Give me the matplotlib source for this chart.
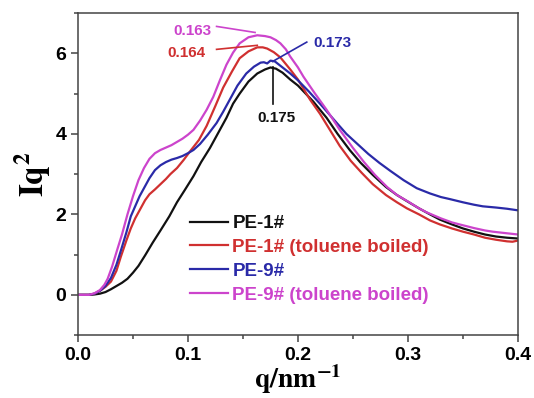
import numpy as np
import matplotlib
matplotlib.use("Agg")
import matplotlib.pyplot as plt
from matplotlib.ticker import MultipleLocator

plt.rcParams['font.family'] = ['Liberation Sans', 'DejaVu Sans']
plt.rcParams['mathtext.fontset'] = 'stix'

# ---- data ----
q_pe1 = [0, 0.01, 0.015, 0.02, 0.025, 0.03, 0.035, 0.04, 0.045, 0.05, 0.055, 0.061, 0.068, 0.075,
         0.083, 0.09, 0.097, 0.105, 0.112, 0.12, 0.128, 0.135, 0.141, 0.147, 0.155, 0.163, 0.17,
         0.175, 0.18, 0.186, 0.193, 0.2, 0.207, 0.214, 0.22, 0.226, 0.236, 0.247, 0.257, 0.268,
         0.28, 0.29, 0.299, 0.31, 0.32, 0.329, 0.34, 0.35, 0.36, 0.37, 0.38, 0.39, 0.4]
i_pe1 = [0, 0, 0.01, 0.03, 0.07, 0.14, 0.22, 0.3, 0.4, 0.55, 0.72, 0.98, 1.3, 1.6,
         1.95, 2.3, 2.6, 2.95, 3.3, 3.65, 4.05, 4.4, 4.75, 5.0, 5.3, 5.5, 5.6,
         5.65, 5.62, 5.52, 5.35, 5.2, 5.0, 4.8, 4.6, 4.4, 4.0, 3.6, 3.28, 2.98,
         2.68, 2.48, 2.33, 2.15, 2.0, 1.87, 1.75, 1.65, 1.57, 1.5, 1.45, 1.42, 1.4]

q_pe1t = [0, 0.01, 0.015, 0.02, 0.025, 0.03, 0.035, 0.039, 0.044, 0.048, 0.052, 0.057, 0.061,
          0.065, 0.07, 0.075, 0.08, 0.084, 0.09, 0.096, 0.102, 0.11, 0.117, 0.125, 0.132, 0.14,
          0.147, 0.155, 0.163, 0.168, 0.172, 0.178, 0.184, 0.193, 0.2, 0.211, 0.22, 0.229, 0.238,
          0.248, 0.258, 0.268, 0.28, 0.29, 0.299, 0.31, 0.32, 0.329, 0.34, 0.35, 0.36, 0.37,
          0.38, 0.39, 0.395, 0.4]
i_pe1t = [0, 0, 0.03, 0.1, 0.2, 0.33, 0.6, 0.95, 1.35, 1.65, 1.9, 2.15, 2.35,
          2.5, 2.62, 2.75, 2.88, 3.0, 3.15, 3.35, 3.57, 3.85, 4.2, 4.7, 5.15, 5.55,
          5.88, 6.05, 6.15, 6.15, 6.12, 6.03, 5.9, 5.6, 5.35, 4.85, 4.5, 4.1, 3.7,
          3.33, 3.03, 2.75, 2.48, 2.3, 2.15, 2.0, 1.85, 1.75, 1.65, 1.57, 1.5, 1.42,
          1.37, 1.33, 1.32, 1.35]

q_pe9 = [0, 0.01, 0.015, 0.02, 0.025, 0.03, 0.035, 0.039, 0.044, 0.048, 0.052, 0.056, 0.061,
         0.065, 0.07, 0.075, 0.08, 0.085, 0.09, 0.095, 0.1, 0.105, 0.111, 0.118, 0.126, 0.132,
         0.138, 0.145, 0.153, 0.16, 0.166, 0.169, 0.172, 0.175, 0.179, 0.186, 0.193, 0.2, 0.21,
         0.22, 0.228, 0.235, 0.244, 0.254, 0.264, 0.274, 0.284, 0.296, 0.308, 0.32, 0.33, 0.338,
         0.35, 0.36, 0.368, 0.38, 0.39, 0.4]
i_pe9 = [0, 0, 0.03, 0.1, 0.22, 0.42, 0.75, 1.1, 1.55, 1.95, 2.2, 2.45, 2.7,
         2.9, 3.1, 3.22, 3.3, 3.36, 3.4, 3.45, 3.52, 3.6, 3.75, 3.98, 4.27, 4.55,
         4.85, 5.2, 5.5, 5.67, 5.77, 5.78, 5.75, 5.82, 5.8, 5.65, 5.5, 5.33, 5.05,
         4.75, 4.5, 4.28, 4.0, 3.75, 3.5, 3.28, 3.08, 2.85, 2.65, 2.52, 2.43, 2.38,
         2.3, 2.24, 2.2, 2.17, 2.14, 2.1]

q_pe9t = [0, 0.01, 0.015, 0.02, 0.024, 0.027, 0.031, 0.036, 0.04, 0.045, 0.05, 0.055, 0.06,
          0.065, 0.07, 0.075, 0.08, 0.085, 0.09, 0.095, 0.1, 0.105, 0.111, 0.117, 0.123, 0.129,
          0.135, 0.141, 0.147, 0.155, 0.163, 0.17, 0.175, 0.18, 0.184, 0.189, 0.193, 0.2, 0.205,
          0.215, 0.226, 0.238, 0.25, 0.26, 0.27, 0.281, 0.29, 0.3, 0.31, 0.317, 0.33, 0.34,
          0.347, 0.36, 0.37, 0.377, 0.39, 0.4]
i_pe9t = [0, 0, 0.04, 0.12, 0.25, 0.4, 0.7, 1.15, 1.5, 2.0, 2.45, 2.85, 3.15,
          3.38, 3.52, 3.6, 3.66, 3.72, 3.8, 3.88, 3.98, 4.1, 4.33, 4.6, 4.92, 5.33,
          5.72, 6.02, 6.25, 6.4, 6.45, 6.43, 6.4, 6.33, 6.25, 6.1, 5.92, 5.65, 5.42,
          5.02, 4.6, 4.1, 3.65, 3.3, 2.98, 2.68, 2.48, 2.32, 2.15, 2.05, 1.9, 1.8,
          1.75, 1.66, 1.6, 1.57, 1.53, 1.5]

labels = ['PE-1#', 'PE-1# (toluene boiled)', 'PE-9#', 'PE-9# (toluene boiled)']
colors = ['#111111', '#d03030', '#2a2aa8', '#cc44cc']

peak_texts = ['0.175', '0.164', '0.173', '0.163']

x_ticks = [0.0, 0.1, 0.2, 0.3, 0.4]
y_ticks = [0, 2, 4, 6]

fig = plt.figure(figsize=(5.34, 3.98), dpi=100)
ax = fig.add_axes([0.146, 0.158, 0.824, 0.809])

series = [(q_pe1, i_pe1), (q_pe1t, i_pe1t), (q_pe9, i_pe9), (q_pe9t, i_pe9t)]
for (q, i), lab, c in zip(series, labels, colors):
    ax.plot(q, i, color=c, lw=1.6, label=lab, solid_joinstyle='round')

ax.set_xlim(0, 0.4)
ax.set_ylim(-1, 7)
ax.set_xticks(x_ticks)
ax.set_xticklabels(['%.1f' % v for v in x_ticks])
ax.set_yticks(y_ticks)
ax.xaxis.set_minor_locator(MultipleLocator(0.05))
ax.yaxis.set_minor_locator(MultipleLocator(1))
ax.tick_params(which='both', direction='out', colors='#444444', width=1.1,
               labelcolor='black', labelsize=14, top=False, right=False)
ax.tick_params(which='major', length=5)
ax.tick_params(which='minor', length=3)
for lbl in ax.get_xticklabels() + ax.get_yticklabels():
    lbl.set_fontweight('bold')
for s in ax.spines.values():
    s.set_color('#444444')
    s.set_linewidth(1.1)

ax.set_xlabel(r'$\mathbf{q/nm^{-1}}$', fontsize=20, labelpad=-1)
ax.set_ylabel(r'$\mathbf{Iq^{2}}$', fontsize=24, labelpad=2)

# annotations
afs = 11
ax.text(0.104, 6.55, peak_texts[3], color=colors[3], fontsize=afs, fontweight='bold', ha='center', va='center')
ax.plot([0.126, 0.161], [6.67, 6.52], color=colors[3], lw=1.2)
ax.text(0.099, 6.0, peak_texts[1], color=colors[1], fontsize=afs, fontweight='bold', ha='center', va='center')
ax.plot([0.126, 0.163], [6.1, 6.2], color=colors[1], lw=1.2)
ax.text(0.231, 6.25, peak_texts[2], color=colors[2], fontsize=afs, fontweight='bold', ha='center', va='center')
ax.plot([0.208, 0.177], [6.28, 5.8], color=colors[2], lw=1.2)
ax.text(0.18, 4.4, peak_texts[0], color=colors[0], fontsize=afs, fontweight='bold', ha='center', va='center')
ax.plot([0.177, 0.177], [5.65, 4.75], color=colors[0], lw=1.2)

leg = ax.legend(loc='upper left', bbox_to_anchor=(0.255, 0.373), frameon=False,
                borderpad=0, borderaxespad=0, handlelength=2.0, handletextpad=0.25,
                labelspacing=0.36, prop={'weight': 'bold', 'size': 13.5})
for t, c in zip(leg.get_texts(), colors):
    t.set_color(c)

fig.savefig('out.png', dpi=100)
